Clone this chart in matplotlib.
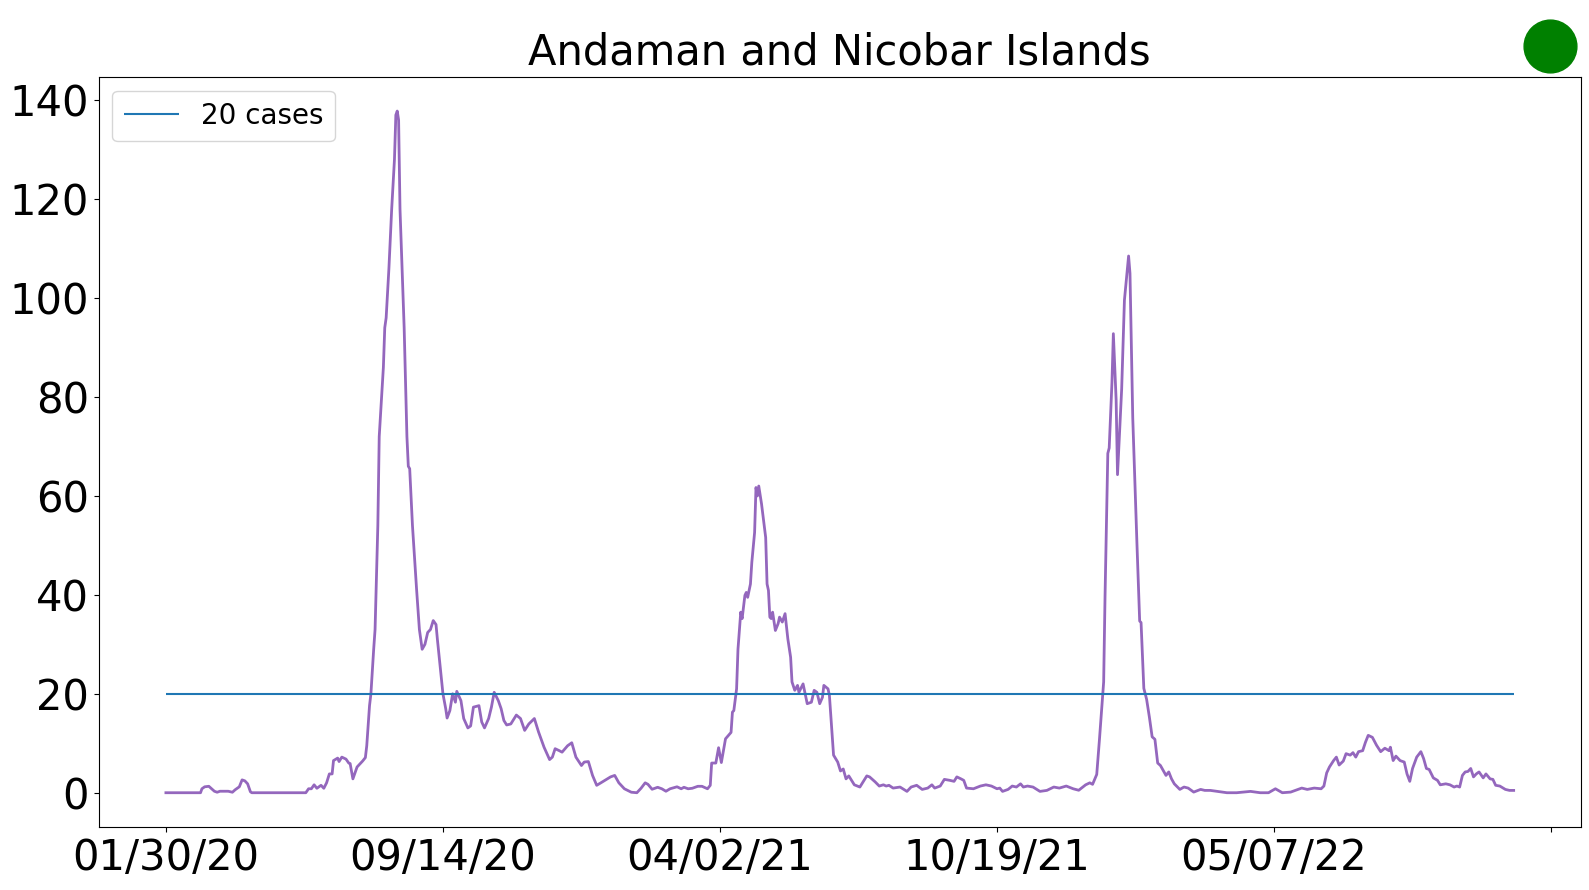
import matplotlib
matplotlib.use("Agg")
import matplotlib.pyplot as plt

# --- data (day index since 01/30/20, 7-day avg cases) ---
day = [0, 25, 26, 28, 31, 33, 35, 37, 39, 45, 48, 50, 53, 55, 57, 59, 61, 62, 101,
       103, 105, 107, 109, 112, 114, 116, 118, 120, 121, 124, 125, 127, 130, 132, 133,
       135, 138, 142, 144, 145, 147, 148, 150, 151, 153, 154, 156, 157, 158, 159, 161,
       163, 165, 166, 167, 168, 169, 172, 174, 175, 176, 178, 181, 183, 185, 187, 189,
       191, 193, 195, 196, 198, 200, 202, 203, 205, 207, 209, 210, 213, 215, 218, 220,
       222, 226, 228, 230, 233, 235, 237, 240, 242, 244, 246, 249, 253, 256, 259, 262,
       266, 269, 273, 277, 279, 281, 284, 286, 290, 293, 296, 300, 302, 305, 308, 311,
       314, 318, 321, 324, 327, 331, 336, 340, 343, 346, 348, 351, 355, 358, 361, 364,
       369, 372, 374, 377, 380, 384, 387, 391, 393, 394, 397, 399, 401, 404, 408, 409,
       410, 412, 413, 415, 416, 418, 419, 420, 422, 423, 425, 426, 427, 428, 430, 433,
       434, 435, 436, 437, 438, 440, 442, 443, 445, 447, 449, 451, 452, 454, 456, 457,
       460, 461, 463, 466, 468, 470, 472, 474, 475, 478, 479, 482, 485, 487, 489, 491,
       493, 497, 501, 506, 508, 512, 515, 518, 520, 522, 525, 530, 535, 538, 542, 546,
       550, 553, 555, 559, 562, 566, 569, 571, 574, 576, 578, 583, 588, 592, 596, 600,
       602, 604, 608, 611, 614, 617, 619, 622, 626, 631, 636, 641, 645, 650, 655, 659,
       664, 667, 669, 672, 674, 677, 678, 680, 681, 683, 684, 686, 687, 689, 690, 692,
       695, 696, 698, 701, 703, 704, 706, 708, 710, 712, 714, 716, 718, 720, 722, 724,
       726, 728, 732, 735, 738, 742, 747, 750, 754, 759, 766, 773, 783, 790, 796, 801,
       806, 812, 820, 824, 829, 834, 836, 838, 840, 843, 845, 847, 850, 852, 855, 857,
       859, 861, 864, 866, 868, 871, 874, 877, 880, 883, 884, 886, 888, 891, 894, 896,
       898, 900, 903, 906, 908, 910, 912, 915, 918, 920, 924, 927, 930, 932, 934, 936,
       938, 940, 942, 944, 946, 948, 951, 953, 956, 958, 960, 963, 967, 970, 973]
cases = [0, 0, 0.8, 1.2, 1.3, 0.8, 0.3, 0.1, 0.3, 0.3, 0.1, 0.6, 1.2, 2.6, 2.4, 1.8, 0.2, 0, 0,
         0.8, 0.8, 1.6, 0.9, 1.5, 0.9, 2.0, 3.8, 3.8, 6.5, 7.0, 6.3, 7.2, 6.8, 6.0, 5.9,
         2.8, 5.2, 6.4, 7.1, 9.5, 17.6, 20, 29, 33, 54, 72, 81.5, 86, 94, 96, 106,
         118, 128, 137, 137.8, 136, 118, 94, 72, 66, 65.5, 54, 41, 33, 29, 30, 32.4,
         33, 34.8, 34, 31, 25.6, 20, 17, 15.1, 16.6, 20, 18.3, 20.5, 18.6, 15, 13.1, 13.5,
         17.3, 17.6, 14.3, 13.1, 15, 17.3, 20.3, 18.6, 17, 14.6, 13.7, 13.9, 15.7, 15, 12.6, 13.9,
         15, 12.3, 9.2, 6.7, 7.2, 8.9, 8.5, 8.2, 9.5, 10.1, 7.2, 5.5, 6.2, 6.3, 3.5, 1.5,
         2, 2.7, 3.2, 3.5, 2, 0.8, 0.1, 0, 0.9, 2, 1.7, 0.7, 1.1, 0.8, 0.3, 0.8,
         1.2, 0.8, 1.1, 0.8, 0.9, 1.3, 1.3, 0.8, 1.5, 6, 6, 9.1, 6.1, 10.9, 12.2, 16.3,
         16.6, 21, 29, 36.5, 35.2, 39.9, 40.5, 39.5, 42.2, 46.6, 52.6, 61.7, 60, 62, 58.4, 51.6,
         42.2, 40.9, 35.5, 35.2, 36.5, 32.8, 34.2, 35.5, 34.5, 36.2, 31.1, 27.4, 22.4, 20.7, 21.7, 20.3,
         22, 20.7, 18, 18.3, 20.7, 20.3, 18, 19.3, 21.7, 21, 19.7, 7.6, 6.2, 4.4, 4.8, 2.8,
         3.4, 1.6, 1.15, 3.4, 3.2, 2.2, 1.35, 1.6, 1.35, 1.5, 0.94, 1.15, 0.27, 1.15, 1.5, 0.67,
         0.94, 1.6, 0.94, 1.35, 2.7, 2.5, 2.3, 3.2, 2.8, 2.5, 0.94, 0.8, 1.35, 1.6, 1.35, 0.8,
         0.94, 0.27, 0.67, 1.35, 1.15, 1.8, 1.15, 1.35, 1.15, 0.27, 0.47, 1.15, 0.94, 1.35, 0.8, 0.5,
         1.6, 2.0, 1.7, 3.7, 10.9, 22.4, 39.8, 68.6, 69.7, 83, 92.8, 79.4, 64.3, 75.8, 81.6, 99.6,
         108.5, 105, 75.8, 50.6, 34.7, 34.4, 21.1, 18.9, 15.3, 11.3, 10.8, 6, 5.5, 4.5, 3.5, 4.2,
         2.8, 1.8, 0.67, 1.15, 0.94, 0.13, 0.67, 0.47, 0.47, 0.27, 0, 0, 0.27, 0, 0, 0.8,
         0, 0.13, 0.94, 0.67, 0.94, 0.8, 1.35, 4, 5.2, 6.5, 7.2, 5.6, 6.4, 7.9, 7.6, 8.1,
         7.2, 8.3, 8.5, 10.2, 11.6, 11.2, 9.6, 8.3, 9, 8.5, 9.2, 6.5, 7.4, 6.5, 6.2, 3.8,
         2.3, 4.9, 7.2, 8.3, 6.9, 4.9, 4.7, 3, 2.5, 1.6, 1.8, 1.6, 1.15, 1.35, 1.15, 3.5,
         4.2, 4.3, 4.9, 3.2, 3.8, 4.2, 3, 3.8, 2.8, 2.7, 1.5, 1.35, 0.67, 0.47, 0.47]

tick_pos = [0, 200, 400, 600, 800, 1000]
tick_labels = ['01/30/20', '09/14/20', '04/02/21', '10/19/21', '05/07/22', '']
threshold = 20
title = 'Andaman and Nicobar Islands'

fig, ax = plt.subplots(figsize=(15.89, 8.90), dpi=100)
fig.subplots_adjust(left=0.062, right=0.995, top=0.9135, bottom=0.071)

ax.plot(day, cases, color='tab:purple', lw=2)
ax.hlines(threshold, day[0], day[-1], color='tab:blue', lw=1.5, label='20 cases')

ax.set_xticks(tick_pos)
ax.set_xticklabels(tick_labels)
ax.tick_params(labelsize=30)
ax.set_title(title, fontsize=30, pad=9)
ax.legend(loc='upper left', fontsize=20)

# status dot in the top right corner
ax.plot([0.9757], [0.9488], 'o', color='green', markersize=38,
        transform=fig.transFigure, clip_on=False)

fig.savefig('out.png', dpi=100)
